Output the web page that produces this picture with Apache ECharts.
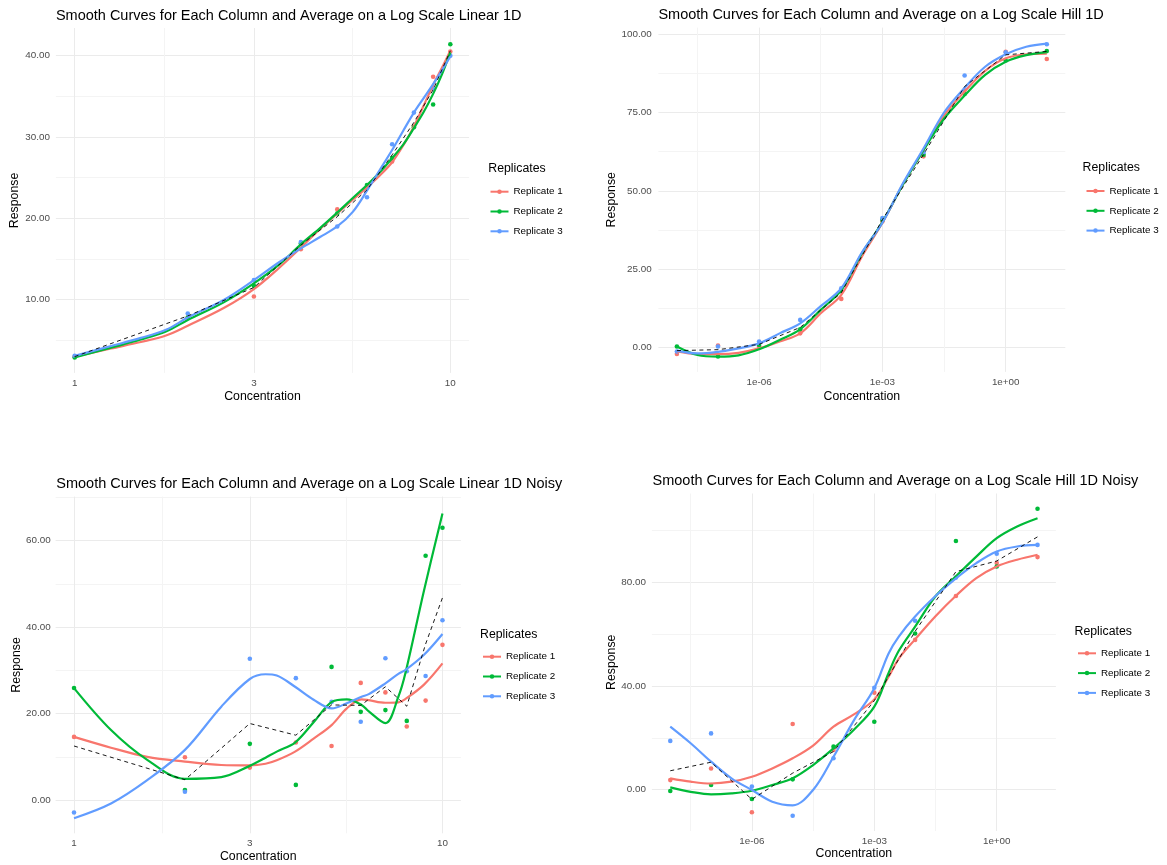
<!DOCTYPE html>
<html><head><meta charset="utf-8">
<script src="https://cdn.jsdelivr.net/npm/echarts@6/dist/echarts.min.js"></script>
<style>html,body{margin:0;padding:0;background:#fff}#c{width:1167px;height:865px}</style>
</head><body><div id="c"></div>
<script>
const replicateNames = ['Replicate 1', 'Replicate 2', 'Replicate 3'];
const replicateColors = ['#F8766D', '#00BA38', '#619CFF'];
const FONT = 'Liberation Sans, Arial, Helvetica, sans-serif';

// ---------- Panel 1 : Linear 1D ----------
const p1Title = 'Smooth Curves for Each Column and Average on a Log Scale Linear 1D';
const p1Conc = [1, 2, 3, 4, 5, 6, 7, 8, 9, 10];
const p1Rep1 = [3.0, 7.8, 10.4, 16.2, 21.1, 23.8, 27.0, 31.3, 37.4, 40.5];
const p1Rep2 = [2.9, 7.8, 11.7, 16.9, 20.6, 24.1, 27.4, 31.2, 34.0, 41.4];
const p1Rep3 = [3.1, 8.3, 12.4, 17.1, 19.0, 22.6, 29.1, 33.0, 36.0, 40.0];
const p1Avg  = [3.0, 8.0, 11.5, 16.7, 20.2, 23.5, 27.8, 31.8, 35.8, 40.6];
const p1CurveConc = [1, 1.25, 1.5, 1.75, 2, 2.5, 3, 3.5, 4, 4.5, 5, 5.5, 6, 6.5, 7, 7.5, 8, 8.5, 9, 9.5, 10];
const p1Curve1 = [3.0, 4.0, 4.8, 5.6, 6.8, 9.0, 11.3, 13.9, 16.4, 18.7, 20.6, 22.3, 23.8, 25.3, 26.9, 29.0, 31.3, 33.9, 36.4, 38.5, 40.6];
const p1Curve2 = [2.9, 4.1, 5.1, 6.1, 7.5, 9.7, 12.0, 14.3, 16.8, 18.8, 20.7, 22.5, 24.1, 25.7, 27.4, 29.1, 31.1, 33.1, 35.3, 37.7, 40.4];
const p1Curve3 = [3.1, 4.3, 5.3, 6.3, 7.8, 10.0, 12.4, 14.6, 16.3, 17.7, 19.0, 20.8, 23.4, 26.0, 28.4, 30.8, 33.0, 34.8, 36.5, 38.2, 39.9];
const p1XTicks = [1, 3, 10];
const p1XTickLabels = ['1', '3', '10'];
const p1XMinor = [1.732, 5.477];
const p1YTicks = [10, 20, 30, 40];
const p1YMinor = [5, 15, 25, 35];

// ---------- Panel 2 : Hill 1D ----------
const p2Title = 'Smooth Curves for Each Column and Average on a Log Scale Hill 1D';
const p2Conc = [1e-8, 1e-7, 1e-6, 1e-5, 1e-4, 1e-3, 1e-2, 1e-1, 1, 10];
const p2Rep1 = [-2.1, 0.6, 0.3, 4.5, 15.5, 40.2, 61.0, 82.1, 94.4, 92.1];
const p2Rep2 = [0.3, -2.9, 0.8, 5.8, 18.0, 40.8, 61.5, 80.9, 91.6, 94.6];
const p2Rep3 = [-1.3, 0.3, 1.9, 8.8, 18.9, 41.3, 62.3, 86.8, 94.2, 96.8];
const p2Avg  = [-1.0, -0.7, 1.0, 6.4, 17.5, 40.8, 61.6, 83.3, 93.4, 94.5];
const p2CurveConc = [1e-8, 3.16e-8, 1e-7, 3.16e-7, 1e-6, 3.16e-6, 1e-5, 3.16e-5, 1e-4, 3.16e-4, 1e-3, 3.16e-3, 1e-2, 3.16e-2, 1e-1, 3.16e-1, 1, 3.16, 10];
const p2Curve1 = [-1.3, -2.1, -2.1, -1.7, -0.3, 1.9, 4.5, 10.9, 16.8, 29.0, 39.8, 52.0, 63.0, 74.0, 81.7, 88.3, 92.3, 93.6, 93.8];
const p2Curve2 = [0.3, -2.4, -2.9, -2.5, -0.6, 2.4, 5.8, 12.0, 18.3, 30.0, 40.0, 52.0, 63.0, 73.0, 80.4, 87.0, 91.2, 93.3, 94.3];
const p2Curve3 = [-1.0, -1.9, -1.4, -0.3, 1.3, 4.5, 7.7, 13.2, 18.9, 30.3, 39.8, 52.4, 63.5, 75.0, 82.9, 89.6, 93.6, 96.0, 97.0];
const p2XTicks = [1e-6, 1e-3, 1];
const p2XTickLabels = ['1e-06', '1e-03', '1e+00'];
const p2XMinor = [3.162e-8, 3.162e-5, 3.162e-2];
const p2YTicks = [0, 25, 50, 75, 100];
const p2YMinor = [12.5, 37.5, 62.5, 87.5];

// ---------- Panel 3 : Linear 1D Noisy ----------
const p3Title = 'Smooth Curves for Each Column and Average on a Log Scale Linear 1D Noisy';
const p3Conc = [1, 2, 3, 4, 5, 6, 7, 8, 9, 10];
const p3Rep1 = [14.6, 9.9, 7.5, 13.3, 12.5, 27.1, 24.9, 17.0, 23.0, 35.9];
const p3Rep2 = [25.9, 2.3, 13.0, 3.5, 30.8, 20.4, 20.8, 18.3, 56.5, 63.0];
const p3Rep3 = [-2.9, 1.9, 32.7, 28.2, 22.7, 18.1, 32.8, 29.8, 28.7, 41.6];
const p3Avg  = [12.5, 4.7, 17.7, 15.0, 22.0, 21.9, 26.2, 21.7, 36.1, 46.8];
const p3CurveConc = [1, 1.26, 1.58, 2.0, 2.51, 3.0, 3.31, 3.55, 3.98, 4.47, 5.01, 5.5, 6.03, 6.31, 7.0, 7.59, 7.94, 8.91, 10];
const p3Curve1 = [14.6, 12.1, 10.0, 8.9, 8.1, 8.0, 8.4, 9.2, 11.2, 14.2, 17.4, 21.2, 23.3, 23.1, 22.5, 22.6, 23.4, 26.7, 31.6];
const p3Curve2 = [25.9, 16.2, 9.3, 4.9, 5.3, 7.9, 9.8, 11.2, 13.3, 18.0, 22.7, 23.3, 22.0, 20.5, 17.8, 23.9, 29.5, 48.5, 66.3];
const p3Curve3 = [-4.2, -0.8, 4.6, 11.6, 21.6, 28.0, 29.1, 28.8, 26.2, 23.2, 21.2, 22.4, 23.9, 24.5, 27.0, 29.2, 30.1, 33.6, 38.4];
const p3XTicks = [1, 3, 10];
const p3XTickLabels = ['1', '3', '10'];
const p3XMinor = [1.732, 5.477];
const p3YTicks = [0, 20, 40, 60];
const p3YMinor = [10, 30, 50, 70];

// ---------- Panel 4 : Hill 1D Noisy ----------
const p4Title = 'Smooth Curves for Each Column and Average on a Log Scale Hill 1D Noisy';
const p4Conc = [1e-8, 1e-7, 1e-6, 1e-5, 1e-4, 1e-3, 1e-2, 1e-1, 1, 10];
const p4Rep1 = [3.7, 8.2, -8.7, 25.3, 15.3, 37.4, 57.7, 74.6, 87.3, 89.6];
const p4Rep2 = [-0.5, 1.8, -3.6, 4.0, 16.6, 26.2, 60.2, 95.8, 86.0, 108.2];
const p4Rep3 = [18.8, 21.7, 1.2, -10.0, 12.1, 39.3, 65.1, 81.7, 90.9, 94.3];
const p4Avg  = [7.3, 10.6, -3.7, 6.4, 14.7, 34.3, 61.0, 84.0, 88.1, 97.4];
const p4CurveConc = [1e-8, 3.16e-8, 1e-7, 3.16e-7, 1e-6, 3.16e-6, 1e-5, 3.16e-5, 1e-4, 3.16e-4, 1e-3, 2.24e-3, 3.98e-3, 1e-2, 3.16e-2, 1e-1, 3.16e-1, 1, 3.16, 10];
const p4Curve1 = [4.4, 3.1, 2.4, 3.1, 5.0, 8.2, 12.1, 17.0, 24.3, 29.0, 34.8, 43.5, 50.5, 57.9, 66.8, 74.7, 81.5, 86.0, 88.6, 90.5];
const p4Curve2 = [0.9, -0.8, -1.8, -1.4, -0.4, 1.8, 4.4, 9.5, 15.9, 23.1, 32.0, 45.0, 53.5, 62.8, 74.5, 82.2, 89.8, 96.9, 101.4, 104.6];
const p4Curve3 = [24.3, 17.9, 10.8, 4.4, -0.1, -4.6, -6.0, -0.1, 12.7, 26.7, 39.1, 52.5, 59.0, 66.7, 74.6, 81.4, 87.3, 91.8, 93.7, 94.3];
const p4XTicks = [1e-6, 1e-3, 1];
const p4XTickLabels = ['1e-06', '1e-03', '1e+00'];
const p4XMinor = [3.162e-8, 3.162e-5, 3.162e-2];
const p4YTicks = [0, 40, 80];
const p4YMinor = [20, 60, 100];

// ---------- layout (pixels) ----------
const panels = [
  { title: p1Title, conc: p1Conc, reps: [p1Rep1, p1Rep2, p1Rep3], avg: p1Avg,
    curveConc: p1CurveConc, curves: [p1Curve1, p1Curve2, p1Curve3],
    xTicks: p1XTicks, xLabels: p1XTickLabels, xMinor: p1XMinor, yTicks: p1YTicks, yMinor: p1YMinor,
    grid: { left: 55.9, top: 28.0, width: 413.2, height: 344.9 },
    xRange: [-0.05, 1.05], yRange: [1.0, 43.4],
    titlePos: [55.9, 8], legTitle: [488.3, 169], legend: [489.5, 190.7],
    yNameGap: 35, xNameGap: 18, yLabMargin: 5.9 },
  { title: p2Title, conc: p2Conc, reps: [p2Rep1, p2Rep2, p2Rep3], avg: p2Avg,
    curveConc: p2CurveConc, curves: [p2Curve1, p2Curve2, p2Curve3],
    xTicks: p2XTicks, xLabels: p2XTickLabels, xMinor: p2XMinor, yTicks: p2YTicks, yMinor: p2YMinor,
    grid: { left: 658.4, top: 27.6, width: 406.9, height: 344.3 },
    xRange: [-8.45, 1.45], yRange: [-7.8, 102.1],
    titlePos: [658.4, 7], legTitle: [1082.6, 168], legend: [1085.5, 190],
    yNameGap: 39.5, xNameGap: 18.5, yLabMargin: 6.8 },
  { title: p3Title, conc: p3Conc, reps: [p3Rep1, p3Rep2, p3Rep3], avg: p3Avg,
    curveConc: p3CurveConc, curves: [p3Curve1, p3Curve2, p3Curve3],
    xTicks: p3XTicks, xLabels: p3XTickLabels, xMinor: p3XMinor, yTicks: p3YTicks, yMinor: p3YMinor,
    grid: { left: 55.6, top: 496.6, width: 405.3, height: 336.7 },
    xRange: [-0.05, 1.05], yRange: [-7.7, 70.2],
    titlePos: [56.3, 476.5], legTitle: [480, 634.3], legend: [482, 655.7],
    yNameGap: 32.2, xNameGap: 17.5, yLabMargin: 4.9 },
  { title: p4Title, conc: p4Conc, reps: [p4Rep1, p4Rep2, p4Rep3], avg: p4Avg,
    curveConc: p4CurveConc, curves: [p4Curve1, p4Curve2, p4Curve3],
    xTicks: p4XTicks, xLabels: p4XTickLabels, xMinor: p4XMinor, yTicks: p4YTicks, yMinor: p4YMinor,
    grid: { left: 651.9, top: 493.5, width: 404.0, height: 337.5 },
    xRange: [-8.45, 1.45], yRange: [-15.9, 114.1],
    titlePos: [652.5, 473.5], legTitle: [1074.5, 631.7], legend: [1077, 652.3],
    yNameGap: 33.2, xNameGap: 17, yLabMargin: 5.9 }
];

const MAJOR = '#EBEBEB', MINOR = '#F4F4F4';
const lg = v => Math.log10(v);

function gridLines(major, minor) {
  const all = major.map(v => ({ v, m: true })).concat(minor.map(v => ({ v, m: false })));
  all.sort((a, b) => a.v - b.v);
  return { values: all.map(a => a.v), colors: all.slice(0, 2).map(a => a.m ? MAJOR : MINOR) };
}

const option = {
  animation: false,
  backgroundColor: '#ffffff',
  textStyle: { fontFamily: FONT },
  title: [], grid: [], xAxis: [], yAxis: [], legend: [], series: [], graphic: []
};

panels.forEach((p, i) => {
  option.title.push({
    text: p.title, left: p.titlePos[0], top: p.titlePos[1], padding: 0,
    textStyle: { fontFamily: FONT, fontSize: 14.5, fontWeight: 'normal', color: '#000000' }
  });
  option.grid.push(Object.assign({ containLabel: false }, p.grid));

  const xMajor = p.xTicks.map(lg);
  const xg = gridLines(xMajor, p.xMinor.map(lg));
  const labelMap = {};
  xMajor.forEach((v, k) => { labelMap[v.toFixed(4)] = p.xLabels[k]; });
  option.xAxis.push({
    type: 'value', gridIndex: i, min: p.xRange[0], max: p.xRange[1],
    name: 'Concentration', nameLocation: 'middle', nameGap: p.xNameGap,
    nameTextStyle: { fontFamily: FONT, fontSize: 12.3, color: '#000000' },
    axisLine: { show: false },
    axisTick: { show: false, customValues: xg.values },
    splitLine: { show: true, customValues: xg.values, lineStyle: { color: xg.colors, width: 1 } },
    axisLabel: { customValues: xMajor, margin: 5, fontSize: 9.85, color: '#4D4D4D', fontFamily: FONT,
      formatter: v => labelMap[Number(v).toFixed(4)] || '' }
  });

  const yg = gridLines(p.yTicks, p.yMinor);
  option.yAxis.push({
    type: 'value', gridIndex: i, min: p.yRange[0], max: p.yRange[1],
    name: 'Response', nameLocation: 'middle', nameGap: p.yNameGap,
    nameTextStyle: { fontFamily: FONT, fontSize: 12.3, color: '#000000' },
    axisLine: { show: false },
    axisTick: { show: false, customValues: yg.values },
    splitLine: { show: true, customValues: yg.values, lineStyle: { color: yg.colors, width: 1 } },
    axisLabel: { customValues: p.yTicks, margin: p.yLabMargin, fontSize: 9.85, color: '#4D4D4D', fontFamily: FONT,
      formatter: v => Number(v).toFixed(2) }
  });

  // smooth curves (first, so the legend uses their line+dot icon)
  p.curves.forEach((curve, k) => {
    option.series.push({
      type: 'line', name: replicateNames[k], xAxisIndex: i, yAxisIndex: i,
      data: p.curveConc.map((c, j) => [lg(c), curve[j]]),
      smooth: 0.35, symbol: 'circle', showSymbol: false, z: 3,
      lineStyle: { color: replicateColors[k], width: 2.2 },
      itemStyle: { color: replicateColors[k] },
      emphasis: { disabled: true }, silent: true
    });
  });
  // replicate points
  p.reps.forEach((rep, k) => {
    option.series.push({
      type: 'scatter', name: replicateNames[k], xAxisIndex: i, yAxisIndex: i,
      data: p.conc.map((c, j) => [lg(c), rep[j]]),
      symbolSize: 4.6, z: 2,
      itemStyle: { color: replicateColors[k], opacity: 1 },
      emphasis: { disabled: true }, silent: true
    });
  });
  // average dashed line
  option.series.push({
    type: 'line', name: 'Average', xAxisIndex: i, yAxisIndex: i,
    data: p.conc.map((c, j) => [lg(c), p.avg[j]]),
    showSymbol: false, smooth: false, z: 4,
    lineStyle: { color: '#000000', width: 0.9, type: [4, 3.5] },
    emphasis: { disabled: true }, silent: true
  });

  option.legend.push({
    orient: 'vertical', left: p.legend[0], top: p.legend[1] - 4, padding: 0,
    itemWidth: 18, itemHeight: 5.6, itemGap: 9.8, selectedMode: false,
    data: replicateNames,
    textStyle: { fontFamily: FONT, fontSize: 9.85, color: '#000000' }
  });
  option.graphic.push({
    type: 'text', x: p.legTitle[0], y: p.legTitle[1], silent: true,
    style: { text: 'Replicates', fontFamily: FONT, fontSize: 12.3, fill: '#000000', align: 'left', verticalAlign: 'middle' }
  });
});

const chart = echarts.init(document.getElementById('c'), null, { renderer: 'canvas' });
chart.setOption(option);
</script>
</body></html>
